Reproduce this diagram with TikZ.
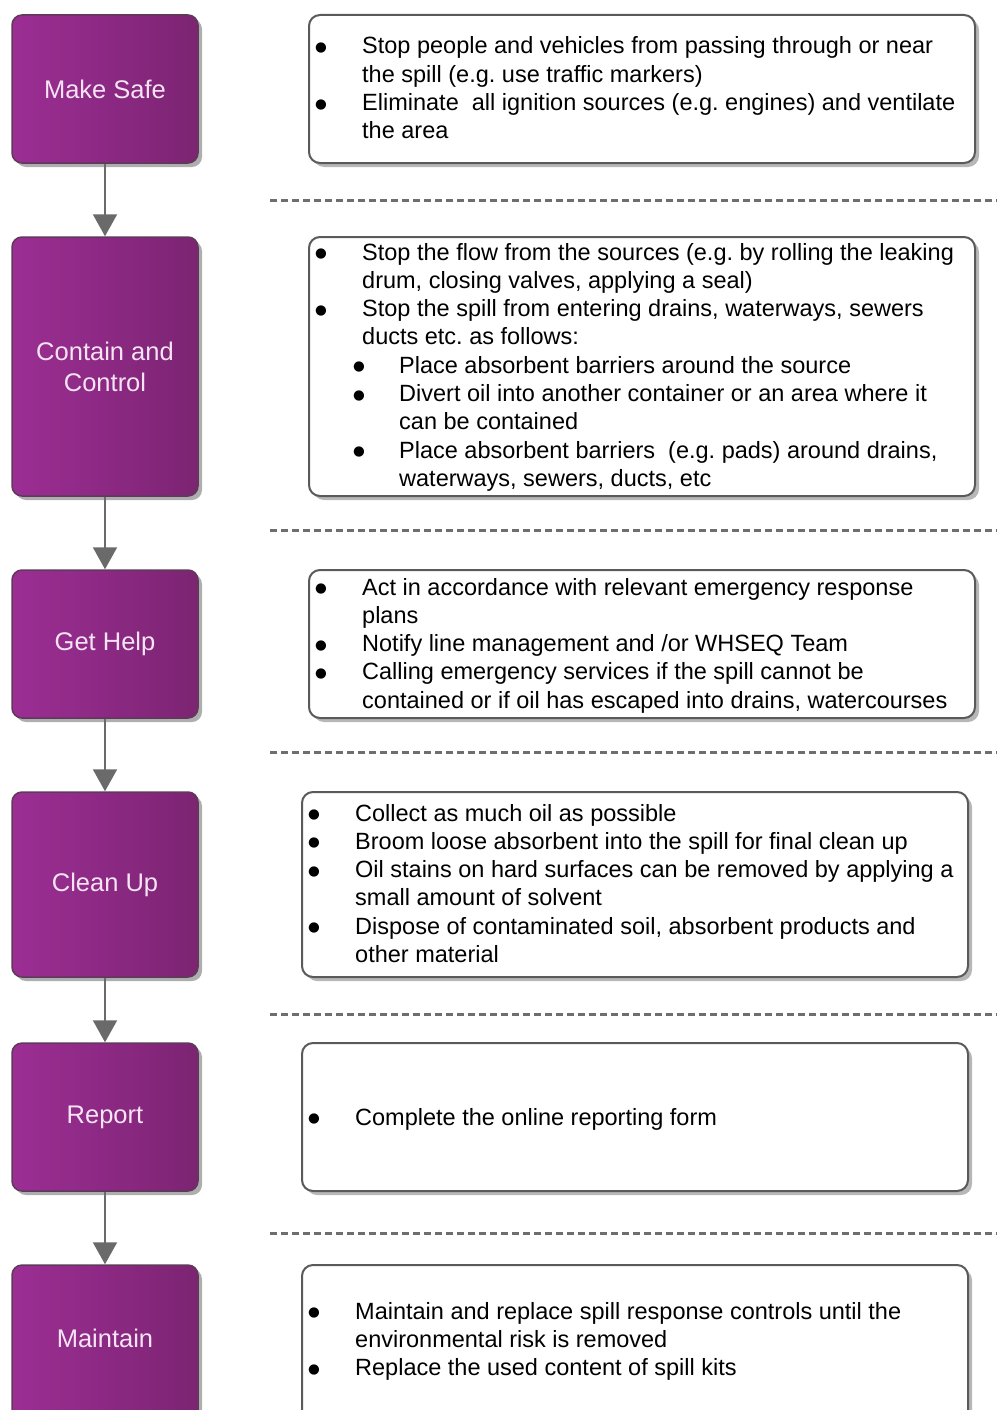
\documentclass[tikz,border=0pt]{standalone}
\usepackage{fontspec}
\setmainfont{Liberation Sans}
\newfontfamily\bulletfont{DejaVu Sans}
\usetikzlibrary{arrows.meta,shadows}
\definecolor{pL}{HTML}{9C2E94}
\definecolor{pR}{HTML}{7C2472}
\definecolor{pBorder}{HTML}{5E3A5A}
\definecolor{pText}{HTML}{F6E4F4}
\definecolor{bBorder}{HTML}{5A5A5A}
\definecolor{arrGray}{HTML}{6A6A6A}
\definecolor{dashGray}{HTML}{6E6E6E}
\tikzset{
  stepbox/.style={draw=pBorder, line width=1.5pt, rounded corners=10pt,
    left color=pL, right color=pR, minimum width=186pt, inner sep=0pt,
    drop shadow={shadow xshift=4pt, shadow yshift=-4pt, fill=black!45, opacity=0.7},
    text=pText, font=\fontsize{25.5}{31}\selectfont, align=center},
  infobox/.style={draw=bBorder, line width=2pt, rounded corners=11pt, fill=white,
    minimum width=666pt, inner sep=0pt,
    drop shadow={shadow xshift=4pt, shadow yshift=-4pt, fill=black!40, opacity=0.7}},
  flowarrow/.style={draw=arrGray, line width=2pt, -{Triangle[width=24pt,length=22pt]}},
  sepline/.style={draw=dashGray, line width=3pt, dash pattern=on 7pt off 4pt},
  itemtext/.style={anchor=base west, inner sep=0pt, font=\fontsize{23.5}{28.3}\selectfont\frenchspacing, text=black}
}
\newcommand{\blt}{\hspace*{1pt}\raisebox{2.5pt}{\bulletfont\fontsize{13.5}{13.5}\selectfont ●}}
\begin{document}
\begin{tikzpicture}[x=1pt,y=-1pt]
\useasboundingbox (0,0) rectangle (997,1410);
\clip (0,0) rectangle (997,1410);
\fill[white] (0,0) rectangle (997,1410);

% dashed separators
\coordinate (d1a) at (270,200);  \coordinate (d1b) at (997,200);
\coordinate (d2a) at (270,530);  \coordinate (d2b) at (997,530);
\coordinate (d3a) at (270,752);  \coordinate (d3b) at (997,752);
\coordinate (d4a) at (270,1014); \coordinate (d4b) at (997,1014);
\coordinate (d5a) at (270,1233); \coordinate (d5b) at (997,1233);
\foreach \i in {1,...,5} \draw[sepline] (d\i a) -- (d\i b);

% left step boxes
\node[stepbox, minimum height=148pt] (s1) at (105,89) {Make Safe};
\node[stepbox, minimum height=259pt] (s2) at (105,366.5) {Contain and\\Control};
\node[stepbox, minimum height=148pt] (s3) at (105,644) {Get Help};
\node[stepbox, minimum height=185pt] (s4) at (105,884.5) {Clean Up};
\node[stepbox, minimum height=148pt] (s5) at (105,1117) {Report};
\node[stepbox, minimum height=170pt] (s6) at (105,1350) {};
\node[text=pText, font=\fontsize{25.5}{31}\selectfont] (s6t) at (105,1338) {Maintain};

\draw[flowarrow] (s1.south) -- (s2.north);
\draw[flowarrow] (s2.south) -- (s3.north);
\draw[flowarrow] (s3.south) -- (s4.north);
\draw[flowarrow] (s4.south) -- (s5.north);
\draw[flowarrow] (s5.south) -- (s6.north);

% right info boxes
\node[infobox, minimum height=148pt] (b1) at (642,89) {};
\node[infobox, minimum height=259pt] (b2) at (642,366.5) {};
\node[infobox, minimum height=148pt] (b3) at (642,644) {};
\node[infobox, minimum height=185pt] (b4) at (635,884.5) {};
\node[infobox, minimum height=148pt] (b5) at (635,1117) {};
\node[infobox, minimum height=170pt] (b6) at (635,1350) {};

% texts
\node[itemtext] (t1) at (314,54) {\begin{tabular}[t]{@{}p{48pt}@{}l@{}}
\blt & Stop people and vehicles from passing through or near\\
 & the spill (e.g. use traffic markers)\\
\blt & Eliminate\ \ all ignition sources (e.g. engines) and ventilate\\
 & the area
\end{tabular}};

\node[itemtext] (t2) at (314,260) {\begin{tabular}[t]{@{}p{38pt}@{}p{10pt}@{}p{37pt}@{}l@{}}
\blt & & \multicolumn{2}{@{}l@{}}{Stop the flow from the sources (e.g. by rolling the leaking}\\
 & & \multicolumn{2}{@{}l@{}}{drum, closing valves, applying a seal)}\\
\blt & & \multicolumn{2}{@{}l@{}}{Stop the spill from entering drains, waterways, sewers}\\
 & & \multicolumn{2}{@{}l@{}}{ducts etc. as follows:}\\
 & \blt & & Place absorbent barriers around the source\\
 & \blt & & Divert oil into another container or an area where it\\
 & & & can be contained\\
 & \blt & & Place absorbent barriers\ \ (e.g. pads) around drains,\\
 & & & waterways, sewers, ducts, etc
\end{tabular}};

\node[itemtext] (t3) at (314,595) {\begin{tabular}[t]{@{}p{48pt}@{}l@{}}
\blt & Act in accordance with relevant emergency response\\
 & plans\\
\blt & Notify line management and /or WHSEQ Team\\
\blt & Calling emergency services if the spill cannot be\\
 & contained or if oil has escaped into drains, watercourses
\end{tabular}};

\node[itemtext] (t4) at (307,821) {\begin{tabular}[t]{@{}p{48pt}@{}l@{}}
\blt & Collect as much oil as possible\\
\blt & Broom loose absorbent into the spill for final clean up\\
\blt & Oil stains on hard surfaces can be removed by applying a\\
 & small amount of solvent\\
\blt & Dispose of contaminated soil, absorbent products and\\
 & other material
\end{tabular}};

\node[itemtext] (t5) at (307,1125) {\begin{tabular}[t]{@{}p{48pt}@{}l@{}}
\blt & Complete the online reporting form
\end{tabular}};

\node[itemtext] (t6) at (307,1319) {\begin{tabular}[t]{@{}p{48pt}@{}l@{}}
\blt & Maintain and replace spill response controls until the\\
 & environmental risk is removed\\
\blt & Replace the used content of spill kits
\end{tabular}};
\end{tikzpicture}
\end{document}
